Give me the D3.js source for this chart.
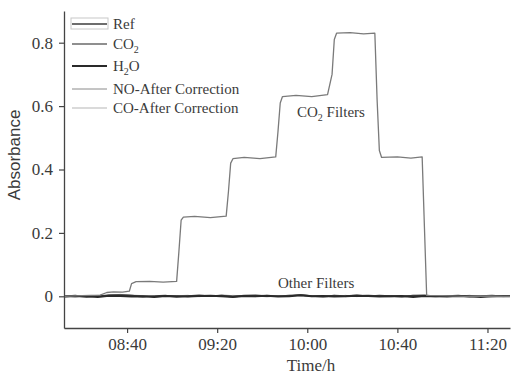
<!DOCTYPE html>
<html>
<head>
<meta charset="utf-8">
<script src="https://cdn.jsdelivr.net/npm/d3@7"></script>
<style>
  html, body { margin: 0; padding: 0; background: #fff; }
  svg { display: block; }
</style>
</head>
<body>
<svg id="chart" width="511" height="374"></svg>
<script>
// ---------- data ----------
const xTickLabels = ["08:40", "09:20", "10:00", "10:40", "11:20"];
const yTickValues = [0, 0.2, 0.4, 0.6, 0.8];

const co2Times = ["08:12","08:20","08:28","08:31","08:34","08:38","08:41","08:42","08:44","08:50","08:56","09:02","09:03","09:04","09:05","09:10","09:17","09:24","09:25","09:26","09:27","09:32","09:39","09:46","09:47","09:48","09:49","09:55","10:02","10:09","10:11","10:12","10:13","10:19","10:25","10:30","10:31","10:32","10:33","10:40","10:46","10:51","10:52","10:53","11:00","11:10","11:20","11:30"];
const co2Values = [0.000,0.002,0.004,0.012,0.014,0.013,0.016,0.040,0.046,0.047,0.045,0.047,0.140,0.240,0.250,0.252,0.248,0.253,0.330,0.420,0.434,0.438,0.434,0.440,0.520,0.610,0.630,0.634,0.630,0.636,0.700,0.810,0.830,0.832,0.828,0.830,0.620,0.460,0.438,0.440,0.436,0.440,0.220,0.003,0.002,0.000,0.001,0.000];

const baseTimes = ["08:12","08:17","08:22","08:27","08:32","08:37","08:42","08:47","08:52","08:57","09:02","09:07","09:12","09:17","09:22","09:27","09:32","09:37","09:42","09:47","09:52","09:57","10:02","10:07","10:12","10:17","10:22","10:27","10:32","10:37","10:42","10:47","10:52","10:57","11:02","11:07","11:12","11:17","11:22","11:27","11:30"];
const refValues = [0.000,0.002,-0.002,0.001,0.003,0.004,0.002,-0.001,0.001,0.002,-0.002,0.001,0.003,0.000,0.002,-0.001,0.002,0.003,0.001,0.000,0.002,0.004,0.001,-0.001,0.002,0.001,0.003,0.000,0.002,0.001,-0.001,0.002,0.003,0.000,0.001,0.002,-0.001,0.001,0.002,0.000,0.001];
const h2oValues = [-0.001,0.001,0.000,-0.002,0.002,0.001,-0.001,0.000,-0.002,0.001,0.000,-0.001,0.001,0.002,0.000,-0.002,0.001,0.000,0.002,-0.001,0.000,0.003,0.000,0.001,-0.001,0.000,0.002,0.001,-0.001,0.000,0.001,-0.002,0.001,0.000,-0.001,0.001,0.000,-0.002,0.000,0.001,0.000];
const noValues  = [0.001,-0.002,0.002,0.000,0.004,0.006,0.003,0.001,-0.002,0.000,0.002,0.003,-0.001,0.001,0.004,0.002,0.000,-0.001,0.003,0.002,0.001,0.005,0.002,0.000,0.003,-0.001,0.001,0.004,0.001,0.002,0.000,0.003,0.001,-0.002,0.002,0.001,0.003,0.000,0.001,-0.001,0.000];
const coValues  = [-0.002,0.000,0.001,0.003,0.002,0.005,0.004,0.002,0.000,-0.001,0.001,-0.002,0.002,0.000,-0.001,0.003,0.001,0.002,-0.002,0.001,0.003,0.001,-0.001,0.002,0.000,0.003,-0.001,0.002,0.000,-0.002,0.002,0.001,0.000,0.002,-0.001,0.000,0.002,0.001,-0.002,0.001,0.000];

const legendLabels = ["Ref", "CO2", "H2O", "NO-After Correction", "CO-After Correction"];

// ---------- setup ----------
const parse = d3.timeParse("%H:%M");
const svg = d3.select("#chart");
const serif = "'Liberation Serif', 'Times New Roman', serif";
const textCol = "#3a3a3a";

const x = d3.scaleTime().domain([parse("08:12"), parse("11:30")]).range([64, 510]);
const y = d3.scaleLinear().domain([-0.1, 0.9]).range([328, 11]);

const line = d3.line().x(d => x(d.t)).y(d => y(d.v));
const zip = (ts, vs) => ts.map((t, i) => ({ t: parse(t), v: vs[i] }));

// ---------- axes ----------
const xAxis = d3.axisBottom(x)
  .tickValues(xTickLabels.map(parse))
  .tickFormat(d3.timeFormat("%H:%M"))
  .tickSize(5).tickSizeOuter(0).tickPadding(5);
const gx = svg.append("g").attr("transform", "translate(0,328)").call(xAxis);

const yAxis = d3.axisLeft(y)
  .tickValues(yTickValues)
  .tickFormat(d3.format(""))
  .tickSize(5).tickSizeOuter(0).tickPadding(6);
const gy = svg.append("g").attr("transform", "translate(64,0)").call(yAxis);

[gx, gy].forEach(g => {
  g.attr("font-family", null).attr("font-size", null);
  g.select(".domain").attr("stroke", "#444").attr("stroke-width", 1.3);
  g.selectAll(".tick line").attr("stroke", "#444").attr("stroke-width", 1.2);
  g.selectAll(".tick text")
    .style("font-family", serif).style("font-size", "17px").attr("fill", textCol);
});

// ---------- series ----------
svg.append("clipPath").attr("id", "clip").append("rect")
  .attr("x", 65).attr("y", 0).attr("width", 446).attr("height", 327);
const plot = svg.append("g").attr("clip-path", "url(#clip)");

const series = [
  { vals: coValues,  times: baseTimes, color: "#b5b5b5", w: 1 },
  { vals: noValues,  times: baseTimes, color: "#8a8a8a", w: 1 },
  { vals: refValues, times: baseTimes, color: "#3c3c3c", w: 1.6 },
  { vals: h2oValues, times: baseTimes, color: "#2a2a2a", w: 2 },
  { vals: co2Values, times: co2Times,  color: "#7a7a7a", w: 1.3 }
];
series.forEach(s => {
  plot.append("path")
    .datum(zip(s.times, s.vals))
    .attr("fill", "none")
    .attr("stroke", s.color)
    .attr("stroke-width", s.w)
    .attr("stroke-linejoin", "round")
    .attr("d", line);
});

// ---------- annotations ----------
const co2Label = svg.append("text").attr("x", 297).attr("y", 117)
  .style("font-family", serif).style("font-size", "15px").attr("fill", textCol);
co2Label.append("tspan").text("CO");
co2Label.append("tspan").style("font-size", "10px").attr("dy", 4).text("2");
co2Label.append("tspan").attr("dy", -4).text(" Filters");

svg.append("text").attr("x", 278).attr("y", 288)
  .style("font-family", serif).style("font-size", "15px").attr("fill", textCol)
  .text("Other Filters");

// axis titles
svg.append("text").attr("x", 311).attr("y", 371).attr("text-anchor", "middle")
  .style("font-family", serif).style("font-size", "17px").attr("fill", textCol)
  .text("Time/h");
svg.append("text").attr("transform", "translate(20,155) rotate(-90)").attr("text-anchor", "middle")
  .style("font-family", "'Liberation Sans', Arial, sans-serif").style("font-size", "17px").attr("fill", textCol)
  .text("Absorbance");

// ---------- legend ----------
const legendRows = [24, 44, 66, 89, 108];
const legendStyles = [
  { color: "#3c3c3c", w: 1.6 },
  { color: "#6a6a6a", w: 1.3 },
  { color: "#2a2a2a", w: 2.2 },
  { color: "#8a8a8a", w: 1 },
  { color: "#b5b5b5", w: 1 }
];
const lg = svg.append("g");
lg.append("rect").attr("x", 71).attr("y", legendRows[0] - 6).attr("width", 37).attr("height", 11)
  .attr("fill", "none").attr("stroke", "#c8c8c8").attr("stroke-width", 1);
legendLabels.forEach((lab, i) => {
  const yy = legendRows[i];
  lg.append("line").attr("x1", 72).attr("x2", 107).attr("y1", yy).attr("y2", yy)
    .attr("stroke", legendStyles[i].color).attr("stroke-width", legendStyles[i].w);
  const t = lg.append("text").attr("x", 113).attr("y", yy + 5)
    .style("font-family", serif).style("font-size", "15px").attr("fill", textCol);
  const m = lab.match(/^([A-Z]+)(\d)([A-Z]*)$/);
  if (m) {
    t.append("tspan").text(m[1]);
    t.append("tspan").style("font-size", "10px").attr("dy", 4).text(m[2]);
    t.append("tspan").attr("dy", -4).text(m[3]);
  } else {
    t.text(lab);
  }
});
</script>
</body>
</html>
